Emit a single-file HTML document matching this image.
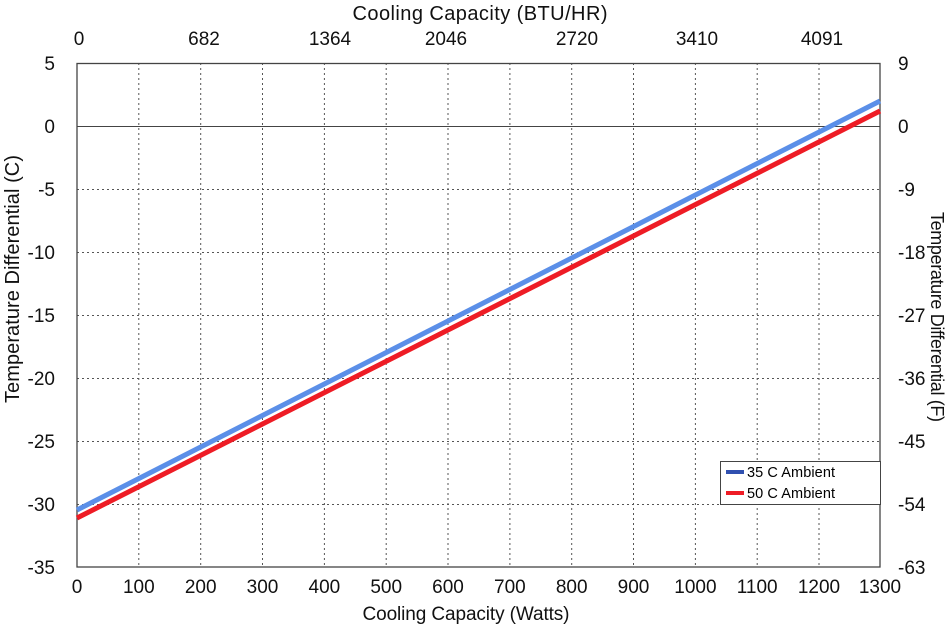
<!DOCTYPE html>
<html><head><meta charset="utf-8"><style>
html,body{margin:0;padding:0;background:#fff;}
svg{display:block;font-family:"Liberation Sans",Arial,sans-serif;}
</style></head><body>
<svg width="950" height="632" viewBox="0 0 950 632" xmlns="http://www.w3.org/2000/svg">
<g stroke="#555" stroke-width="1" stroke-dasharray="2,3">
<line x1="138.8" y1="63" x2="138.8" y2="567"/><line x1="200.7" y1="63" x2="200.7" y2="567"/>
<line x1="262.5" y1="63" x2="262.5" y2="567"/><line x1="324.4" y1="63" x2="324.4" y2="567"/>
<line x1="386.2" y1="63" x2="386.2" y2="567"/><line x1="448" y1="63" x2="448" y2="567"/>
<line x1="509.9" y1="63" x2="509.9" y2="567"/><line x1="571.7" y1="63" x2="571.7" y2="567"/>
<line x1="633.5" y1="63" x2="633.5" y2="567"/><line x1="695.4" y1="63" x2="695.4" y2="567"/>
<line x1="757.2" y1="63" x2="757.2" y2="567"/><line x1="819" y1="63" x2="819" y2="567"/>
<line x1="77" y1="189.5" x2="880" y2="189.5"/><line x1="77" y1="252.5" x2="880" y2="252.5"/>
<line x1="77" y1="315.5" x2="880" y2="315.5"/><line x1="77" y1="378.5" x2="880" y2="378.5"/>
<line x1="77" y1="441.5" x2="880" y2="441.5"/><line x1="77" y1="504.5" x2="880" y2="504.5"/>
</g>
<line x1="77" y1="126.5" x2="880" y2="126.5" stroke="#444" stroke-width="1"/>
<rect x="77" y="63.5" width="803" height="503.5" fill="none" stroke="#444" stroke-width="1.3"/>
<line x1="77" y1="510" x2="880" y2="101" stroke="#5b8fe8" stroke-width="5"/>
<line x1="77" y1="518" x2="880" y2="111" stroke="#ee1c25" stroke-width="5"/>
<rect x="720.5" y="461.5" width="160" height="43" fill="#fff" stroke="#444" stroke-width="1"/>
<line x1="726" y1="472" x2="744" y2="472" stroke="#3050b0" stroke-width="4"/>
<line x1="726" y1="493" x2="744" y2="493" stroke="#ee1c25" stroke-width="4"/>
<text x="747" y="477" font-size="14.5" textLength="88">35 C Ambient</text>
<text x="747" y="498" font-size="14.5" textLength="88">50 C Ambient</text>
<g font-size="19" text-anchor="end" fill="#111">
<text x="55" y="70">5</text><text x="55" y="133">0</text><text x="55" y="196">-5</text>
<text x="55" y="259">-10</text><text x="55" y="322">-15</text><text x="55" y="385">-20</text>
<text x="55" y="448">-25</text><text x="55" y="511">-30</text><text x="55" y="574">-35</text>
</g>
<g font-size="19" text-anchor="start" fill="#111">
<text x="898" y="70">9</text><text x="898" y="133">0</text><text x="898" y="196">-9</text>
<text x="898" y="259">-18</text><text x="898" y="322">-27</text><text x="898" y="385">-36</text>
<text x="898" y="448">-45</text><text x="898" y="511">-54</text><text x="898" y="574">-63</text>
</g>
<g font-size="19" text-anchor="middle" fill="#111">
<text x="77" y="593">0</text><text x="138.8" y="593">100</text><text x="200.7" y="593">200</text>
<text x="262.5" y="593">300</text><text x="324.4" y="593">400</text><text x="386.2" y="593">500</text>
<text x="448" y="593">600</text><text x="509.9" y="593">700</text><text x="571.7" y="593">800</text>
<text x="633.5" y="593">900</text><text x="695.4" y="593">1000</text><text x="757.2" y="593">1100</text>
<text x="819" y="593">1200</text><text x="880" y="593">1300</text>
<text x="79" y="45">0</text><text x="204" y="45">682</text><text x="330" y="45">1364</text>
<text x="446" y="45">2046</text><text x="577" y="45">2720</text><text x="697" y="45">3410</text>
<text x="822" y="45">4091</text>
<text x="466" y="620" font-size="19" textLength="207">Cooling Capacity (Watts)</text>
<text x="480" y="20" font-size="20" textLength="255">Cooling Capacity (BTU/HR)</text>
</g>
<text font-size="20" text-anchor="middle" fill="#111" textLength="248" transform="translate(19,279) rotate(-90)">Temperature Differential (C)</text>
<text font-size="18" text-anchor="middle" fill="#111" textLength="210" transform="translate(931,317) rotate(90)">Temperature Differential (F)</text>
</svg>
</body></html>
